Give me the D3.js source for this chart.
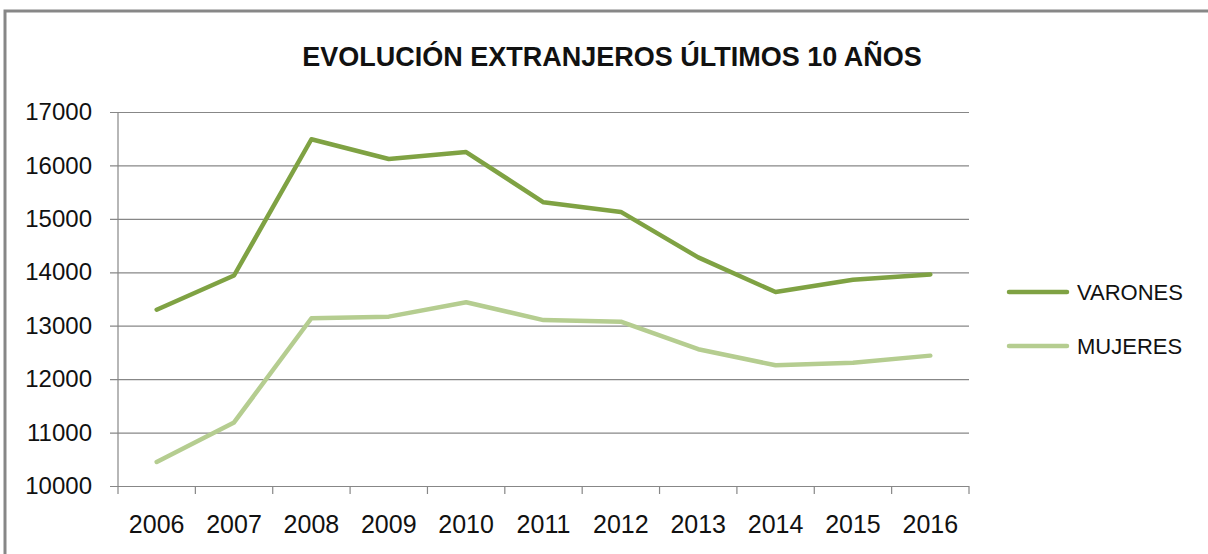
<!DOCTYPE html>
<html>
  <head>
    <meta charset="utf-8">
    <title>Evolución extranjeros</title>
    <script src="https://d3js.org/d3.v7.min.js"></script>
  </head>
  <style>
    body { margin: 0; background: #fff; }
    .domain { display: none; }
  </style>
  <body>
    <svg id="chart" width="1208" height="554"></svg>

    <script>
      var years = ["2006","2007","2008","2009","2010","2011","2012","2013","2014","2015","2016"];
      var varones = [13300, 13940, 16490, 16120, 16250, 15310, 15130, 14280, 13630, 13860, 13960];
      var mujeres = [10450, 11190, 13140, 13170, 13440, 13105, 13075, 12560, 12260, 12305, 12440];
      var yTicks = [10000, 11000, 12000, 13000, 14000, 15000, 16000, 17000];
      var seriesNames = ["VARONES", "MUJERES"];
      var colors = ["#7fa243", "#b5cd90"];

      var svg = d3.select("#chart");

      // chart frame (cut off at right and bottom like the original)
      svg.append("path")
        .attr("d", "M5,560 L5,11 L1215,11")
        .attr("fill", "none")
        .attr("stroke", "#878787")
        .attr("stroke-width", 3);

      svg.append("text")
        .attr("x", 612)
        .attr("y", 66)
        .attr("text-anchor", "middle")
        .attr("font-family", "Liberation Sans, Arial, sans-serif")
        .attr("font-weight", "bold")
        .attr("font-size", 27)
        .attr("fill", "#111")
        .text("EVOLUCIÓN EXTRANJEROS ÚLTIMOS 10 AÑOS");

      var xScale = d3.scaleBand().domain(years).range([118, 969]);
      var yScale = d3.scaleLinear().domain([10000, 17000]).range([486, 112]);

      // gridlines + y ticks
      var yAxis = d3.axisLeft(yScale)
        .tickValues(yTicks)
        .tickSize(-851)
        .tickPadding(26)
        .tickFormat(d3.format("d"));

      var yG = svg.append("g").attr("transform", "translate(118,0)").call(yAxis);
      yG.selectAll(".tick line")
        .attr("x1", -8)
        .attr("stroke", "#878787")
        .attr("stroke-width", 1.2);
      yG.selectAll(".tick text")
        .attr("font-family", "Liberation Sans, Arial, sans-serif")
        .attr("font-size", 24)
        .attr("fill", "#111");

      // y axis line
      svg.append("line")
        .attr("x1", 118).attr("x2", 118)
        .attr("y1", yScale(17000)).attr("y2", yScale(10000))
        .attr("stroke", "#878787").attr("stroke-width", 1.2);

      // x axis: ticks at category boundaries
      var edges = years.map(d => xScale(d)).concat([xScale.range()[1]]);
      svg.selectAll("line.xtick")
        .data(edges)
        .enter()
        .append("line")
          .attr("class", "xtick")
          .attr("x1", d => d).attr("x2", d => d)
          .attr("y1", 486).attr("y2", 494)
          .attr("stroke", "#878787").attr("stroke-width", 1.2);

      svg.selectAll("text.xlab")
        .data(years)
        .enter()
        .append("text")
          .attr("class", "xlab")
          .attr("x", d => xScale(d) + xScale.bandwidth() / 2)
          .attr("y", 533)
          .attr("text-anchor", "middle")
          .attr("font-family", "Liberation Sans, Arial, sans-serif")
          .attr("font-size", 25)
          .attr("fill", "#111")
          .text(d => d);

      var line = d3.line()
        .x((d, i) => xScale(years[i]) + xScale.bandwidth() / 2)
        .y(d => yScale(d));

      svg.append("path")
        .attr("d", line(mujeres))
        .attr("fill", "none")
        .attr("stroke", colors[1])
        .attr("stroke-width", 4.5)
        .attr("stroke-linejoin", "round")
        .attr("stroke-linecap", "round");

      svg.append("path")
        .attr("d", line(varones))
        .attr("fill", "none")
        .attr("stroke", colors[0])
        .attr("stroke-width", 4.5)
        .attr("stroke-linejoin", "round")
        .attr("stroke-linecap", "round");

      // legend
      var legend = svg.selectAll("g.legend")
        .data(seriesNames)
        .enter()
        .append("g")
          .attr("class", "legend")
          .attr("transform", (d, i) => "translate(1009," + (292 + i * 54) + ")");

      legend.append("line")
        .attr("x1", 0).attr("x2", 58)
        .attr("y1", 0).attr("y2", 0)
        .attr("stroke", (d, i) => colors[i])
        .attr("stroke-width", 4.5)
        .attr("stroke-linecap", "round");

      legend.append("text")
        .attr("x", 68)
        .attr("y", 8)
        .attr("font-family", "Liberation Sans, Arial, sans-serif")
        .attr("font-size", 22)
        .attr("fill", "#111")
        .text(d => d);
    </script>
  </body>
</html>
